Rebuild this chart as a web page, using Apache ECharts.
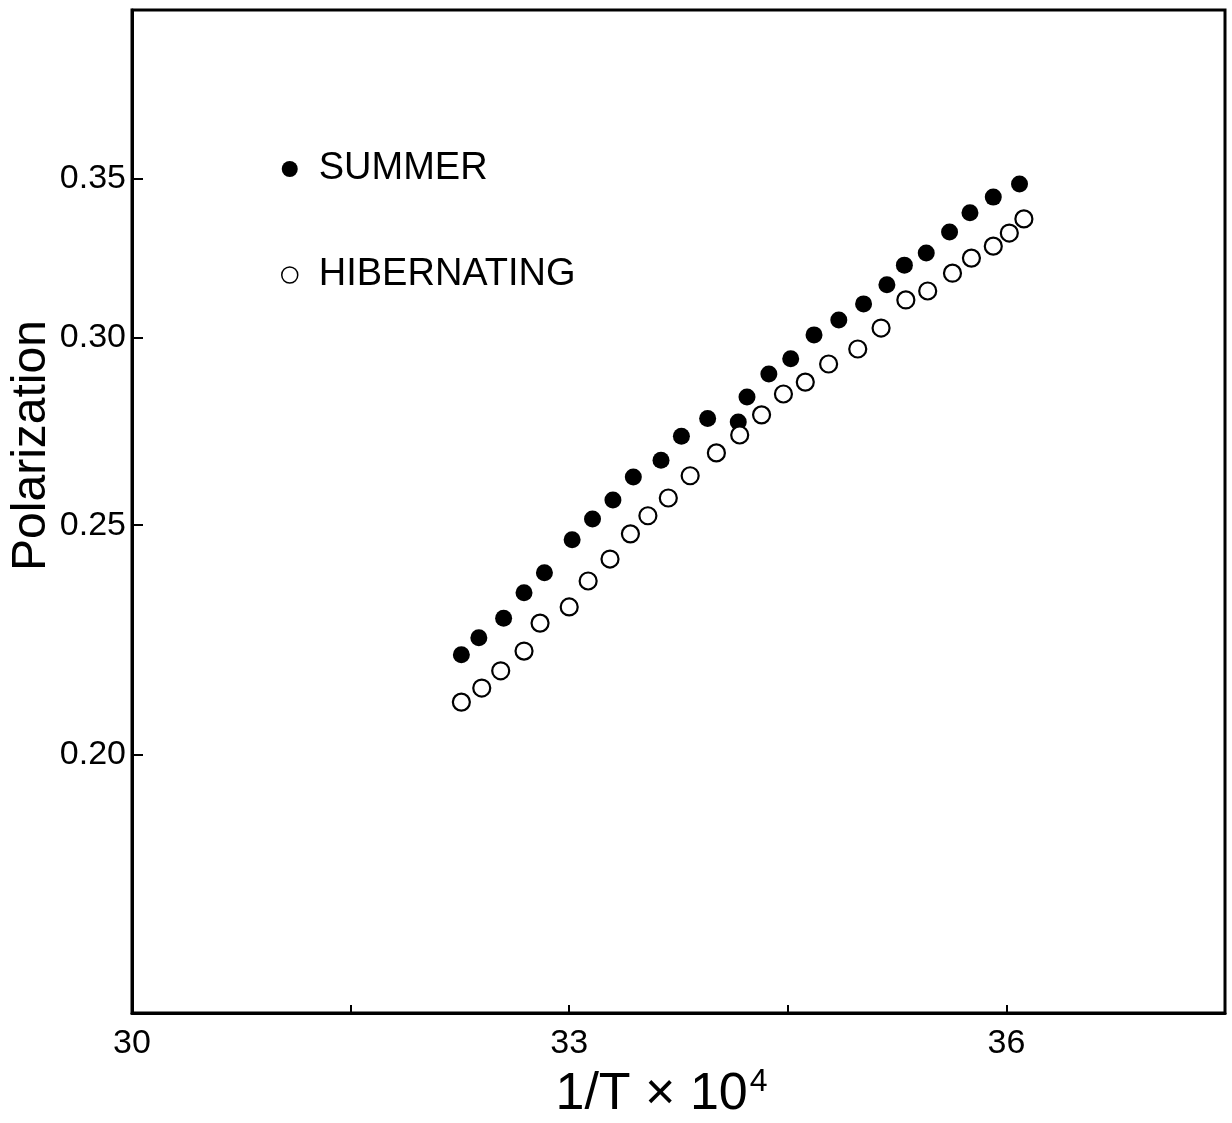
<!DOCTYPE html>
<html>
<head>
<meta charset="utf-8">
<script src="https://cdn.jsdelivr.net/npm/echarts@6/dist/echarts.min.js"></script>
<style>
html,body{margin:0;padding:0;background:#fff;}
#chart{width:1232px;height:1123px;}
</style>
</head>
<body>
<div id="chart"></div>
<script>
// 1/T x 10^4
const summerX = [32.26,32.38,32.55,32.69,32.83,33.02,33.16,33.30,33.44,33.63,33.77,33.95,34.16,34.22,34.37,34.52,34.68,34.85,35.02,35.18,35.30,35.45,35.61,35.75,35.91,36.09];
const summerY = [0.2204,0.2241,0.2284,0.2341,0.2387,0.2465,0.2515,0.2562,0.2620,0.2663,0.2726,0.2773,0.2764,0.2832,0.2896,0.2939,0.3008,0.3052,0.3100,0.3158,0.3219,0.3257,0.3324,0.3387,0.3439,0.3483];
const hiberX = [32.26,32.40,32.53,32.69,32.80,33.00,33.13,33.28,33.42,33.54,33.68,33.83,34.01,34.17,34.32,34.47,34.62,34.78,34.98,35.14,35.31,35.46,35.63,35.76,35.91,36.02,36.12];
const hiberY = [0.2105,0.2134,0.2170,0.2212,0.2273,0.2309,0.2368,0.2419,0.2479,0.2523,0.2567,0.2623,0.2682,0.2729,0.2783,0.2840,0.2873,0.2924,0.2967,0.3028,0.3112,0.3139,0.3194,0.3241,0.3279,0.3321,0.3367];
const xTickValues = [30,31.5,33,34.5,36];
const xLabelValues = [30,33,36];
const yTickValues = [0.20,0.25,0.30,0.35];
const seriesNames = ['SUMMER','HIBERNATING'];

const zip = (xs, ys) => xs.map((x, i) => [x, ys[i]]);
const FONT = 'Liberation Sans, Arial, Helvetica, sans-serif';

const chart = echarts.init(document.getElementById('chart'), null, {renderer: 'canvas'});
chart.setOption({
  backgroundColor: '#fff',
  animation: false,
  grid: {left: 132, right: 7, top: 10, bottom: 110, containLabel: false, outerBoundsMode: 'none',
    show: true, borderColor: '#000', borderWidth: 3},
  legend: {
    orient: 'vertical',
    left: 276,
    top: 145,
    itemGap: 68,
    itemWidth: 16,
    itemHeight: 16,
    textStyle: {fontFamily: FONT, fontSize: 38, color: '#000', padding: [0, 0, 0, 16]},
    data: [
      {name: seriesNames[0], icon: 'circle', itemStyle: {color: '#000', opacity: 1}},
      {name: seriesNames[1], icon: 'circle', itemStyle: {color: '#fff', borderColor: '#000', borderWidth: 1.5, opacity: 1}}
    ]
  },
  xAxis: {
    type: 'value',
    min: 30, max: 37.5,
    name: '{a|1/T × 10}{s|4}',
    nameLocation: 'middle',
    nameGap: 53,
    nameMoveOverlap: false,
    nameTextStyle: {
      padding: [0, 34, 0, 0],
      rich: {
        a: {fontFamily: FONT, fontSize: 52, color: '#000'},
        s: {fontFamily: FONT, fontSize: 32, color: '#000', padding: [0, 0, 26, 2]}
      }
    },
    axisLine: {show: true, lineStyle: {color: '#000', width: 3}},
    axisTick: {show: true, inside: true, length: 8, lineStyle: {color: '#000', width: 2}, customValues: xTickValues},
    axisLabel: {show: true, margin: 14, fontFamily: FONT, fontSize: 34, color: '#000', customValues: xLabelValues},
    splitLine: {show: false}
  },
  yAxis: {
    type: 'log',
    min: 0.1556, max: 0.4125,
    name: 'Polarization',
    nameLocation: 'middle',
    nameGap: 76,
    nameMoveOverlap: false,
    nameRotate: 90,
    nameTextStyle: {fontFamily: FONT, fontSize: 48, color: '#000', padding: [0, 0, 0, 132]},
    axisLine: {show: true, lineStyle: {color: '#000', width: 3}},
    axisTick: {show: true, inside: true, length: 11, lineStyle: {color: '#000', width: 2}, customValues: yTickValues},
    axisLabel: {show: true, margin: 6, fontFamily: FONT, fontSize: 34, color: '#000', customValues: yTickValues,
      formatter: v => Number(v).toFixed(2)},
    splitLine: {show: false}
  },
  series: [
    {
      name: seriesNames[0], type: 'scatter', symbol: 'circle', symbolSize: 17,
      itemStyle: {color: '#000', opacity: 1},
      data: zip(summerX, summerY)
    },
    {
      name: seriesNames[1], type: 'scatter', symbol: 'circle', symbolSize: 17,
      itemStyle: {color: '#fff', borderColor: '#000', borderWidth: 2.2, opacity: 1},
      data: zip(hiberX, hiberY)
    }
  ]
});
</script>
</body>
</html>
